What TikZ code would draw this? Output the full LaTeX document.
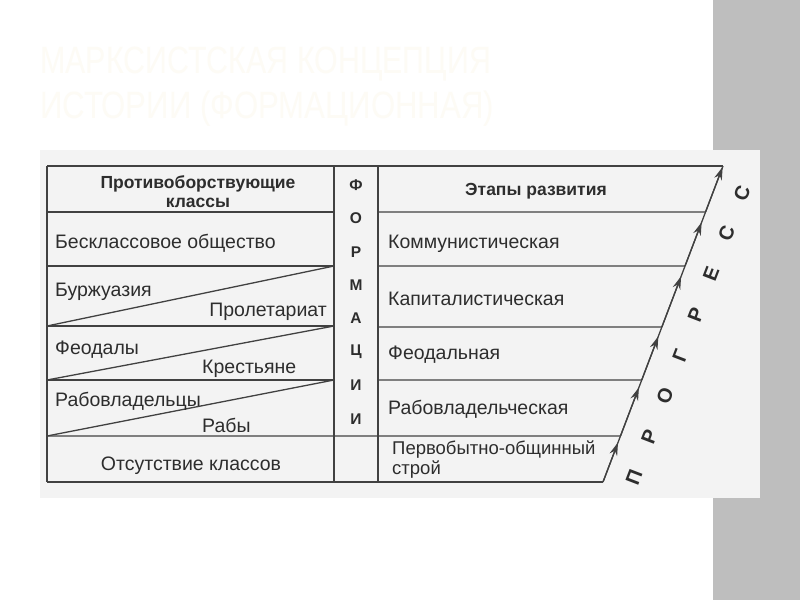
\documentclass[tikz,border=0pt]{standalone}
\usepackage{fontspec}
\setmainfont{Liberation Sans}
\usetikzlibrary{arrows.meta,calc}
\definecolor{ink}{RGB}{45,45,45}
\definecolor{rulec}{RGB}{65,65,65}
\definecolor{panel}{RGB}{243,243,243}
\definecolor{stripe}{RGB}{190,190,190}
\definecolor{titlec}{RGB}{253,251,245}
\tikzset{
  txt/.style={inner sep=0pt, text=ink, font=\fontsize{19.5}{22}\selectfont},
  head/.style={inner sep=0pt, text=ink, font=\bfseries\fontsize{17.5}{20}\selectfont},
  vletter/.style={inner sep=0pt, text=ink, font=\bfseries\fontsize{15.5}{17}\selectfont},
  pletter/.style={inner sep=0pt, text=ink, rotate=69, font=\bfseries\fontsize{20}{21}\selectfont},
  titletext/.style={inner sep=0pt, text=titlec, anchor=base west, font=\fontsize{38}{44}\selectfont},
  gridline/.style={draw=rulec, line width=1.3pt},
  prog/.style={draw=rulec, line width=1.3pt, -{Stealth[length=13pt,width=8pt]}}
}
\begin{document}
\begin{tikzpicture}[x=1pt,y=-1pt]
\useasboundingbox (0,0) rectangle (800,600);
\fill[white] (0,0) rectangle (800,600);
\fill[stripe] (713,0) rectangle (800,600);
% title
\node[titletext] (t1) at (40,73) {\scalebox{0.8}[1]{МАРКСИСТСКАЯ КОНЦЕПЦИЯ}};
\node[titletext] (t2) at (40,118) {\scalebox{0.82}[1]{ИСТОРИИ (ФОРМАЦИОННАЯ)}};
% panel
\fill[panel] (40,150) rectangle (760,498);
% key coordinates
\coordinate (B) at (603,482);
\coordinate (T) at (723,166);
\coordinate (I1) at ($(B)!0.8544!(T)$);
\coordinate (I2) at ($(B)!0.6835!(T)$);
\coordinate (I3) at ($(B)!0.4905!(T)$);
\coordinate (I4) at ($(B)!0.3228!(T)$);
\coordinate (I5) at ($(B)!0.1456!(T)$);
% outer and vertical lines
\draw[gridline] (47,166) -- (T);
\draw[gridline] (47,482) -- (B);
\draw[gridline] (47,166) -- (47,482);
\draw[gridline] (334,166) -- (334,482);
\draw[gridline] (378,166) -- (378,482);
% left table rows
\draw[gridline] (47,212) -- (334,212);
\draw[gridline] (47,266) -- (334,266);
\draw[gridline] (47,326) -- (334,326);
\draw[gridline] (47,380) -- (334,380);
\draw[gridline] (47,436) -- (I5);
\draw[gridline] (47,326) -- (334,266);
\draw[gridline] (47,380) -- (334,326);
\draw[gridline] (47,436) -- (334,380);
% right table rows
\draw[gridline] (378,212) -- (I1);
\draw[gridline] (378,266) -- (I2);
\draw[gridline] (378,327) -- (I3);
\draw[gridline] (378,380) -- (I4);
% progress arrow: continuous line with arrowheads
\draw[gridline] (B) -- (T);
\draw[prog, shorten >=7pt] (B) -- (I5);
\draw[prog, shorten >=8pt] (I5) -- (I4);
\draw[prog, shorten >=10pt] (I4) -- (I3);
\draw[prog, shorten >=11pt] (I3) -- (I2);
\draw[prog, shorten >=11pt] (I2) -- (I1);
\draw[prog, shorten >=1pt] (I1) -- (T);
% left texts
\node[head, anchor=base] (h1) at (198,188) {Противоборствующие};
\node[head, anchor=base] (h2) at (198,207) {классы};
\node[txt, anchor=base west] (l1) at (55,248) {Бесклассовое общество};
\node[txt, anchor=base west] (l2a) at (55,296) {Буржуазия};
\node[txt, anchor=base east] (l2b) at (327,316) {Пролетариат};
\node[txt, anchor=base west] (l3a) at (55,354) {Феодалы};
\node[txt, anchor=base west] (l3b) at (202,373) {Крестьяне};
\node[txt, anchor=base west] (l4a) at (55,406) {Рабовладельцы};
\node[txt, anchor=base west] (l4b) at (202,432) {Рабы};
\node[txt, anchor=base] (l5) at (191,470) {Отсутствие классов};
% middle letters
\foreach \L [count=\i from 0] in {Ф,О,Р,М,А,Ц,И,И}
  \node[vletter] (m\i) at (356,{185+33.4*\i}) {\L};
% right texts
\node[head, anchor=base] (h3) at (536,195) {Этапы развития};
\node[txt, anchor=base west] (r1) at (388,248) {Коммунистическая};
\node[txt, anchor=base west] (r2) at (388,305) {Капиталистическая};
\node[txt, anchor=base west, font=\fontsize{18.5}{20}\selectfont] (r5a) at (392,454) {Первобытно-общинный};
\node[txt, anchor=base west, font=\fontsize{18.5}{20}\selectfont] (r5b) at (392,474) {строй};
\node[txt, anchor=base west] (r3) at (388,359) {Феодальная};
\node[txt, anchor=base west] (r4) at (388,414) {Рабовладельческая};
% ПРОГРЕСС
\foreach \L [count=\i from 0] in {П,Р,О,Г,Р,Е,С,С}
  \node[pletter] (p\i) at ({634+15.43*\i},{477-40.57*\i}) {\L};
\end{tikzpicture}
\end{document}
